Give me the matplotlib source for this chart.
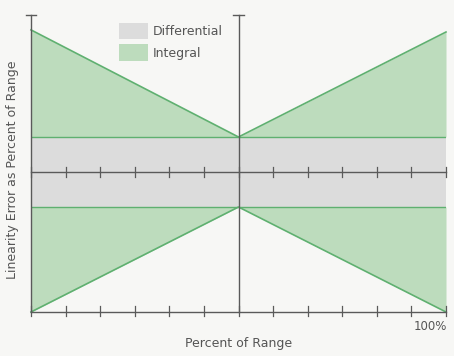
import numpy as np
import matplotlib
matplotlib.use("Agg")
import matplotlib.pyplot as plt
from matplotlib.patches import Patch

# Data (percent of range vs linearity error, arbitrary units)
range_pct = [0, 50, 100]
integral_upper = [4.06, 1.0, 4.0]
integral_lower = [-4.0, -1.0, -4.0]
differential = 1.0
tick_pos = np.linspace(0, 100, 13)

BG = "#f7f7f5"
GREEN_FILL = "#bddcbd"
GREEN_LINE = "#5fb070"
GRAY_FILL = "#dcdcdc"
AXC = "#5a5a5a"
TEXTC = "#555555"

fig = plt.figure(figsize=(4.54, 3.56), dpi=100)
fig.patch.set_facecolor(BG)
ax = fig.add_axes([31 / 454, 36 / 356, 415 / 454, 310 / 356])
ax.set_facecolor(BG)
ax.set_xlim(0, 100)
ax.set_ylim(-148 / 35, 162 / 35)
ax.axis("off")

# differential band
ax.fill_between([0, 100], -differential, differential, color=GRAY_FILL, lw=0, zorder=1)
# integral areas
ax.fill_between(range_pct, differential, integral_upper, color=GREEN_FILL, lw=0, zorder=1)
ax.fill_between(range_pct, integral_lower, -differential, color=GREEN_FILL, lw=0, zorder=1)
ax.plot(range_pct, integral_upper, color=GREEN_LINE, lw=1.2, zorder=3, clip_on=False)
ax.plot(range_pct, integral_lower, color=GREEN_LINE, lw=1.2, zorder=3, clip_on=False)
ax.plot([0, 100], [differential, differential], color=GREEN_LINE, lw=1.0, zorder=3)
ax.plot([0, 100], [-differential, -differential], color=GREEN_LINE, lw=1.0, zorder=3)

# axes drawn by hand
top = 157 / 35
bottom = -4.0
for xv in [0, 50]:
    ax.plot([xv, xv], [bottom, top], color=AXC, lw=1.0, zorder=4, clip_on=False)
    ax.plot([xv - 1.3, xv + 1.3], [top, top], color=AXC, lw=1.0, zorder=4, clip_on=False)
ax.plot([0, 100], [0, 0], color=AXC, lw=1.0, zorder=4, clip_on=False)
ax.plot([0, 100], [bottom, bottom], color=AXC, lw=1.0, zorder=4, clip_on=False)
for xv in tick_pos:
    ax.plot([xv, xv], [-0.15, 0.15], color=AXC, lw=0.9, zorder=4, clip_on=False)
    ax.plot([xv, xv], [bottom - 0.1, bottom + 0.17], color=AXC, lw=0.9, zorder=4, clip_on=False)

# legend
handles = [Patch(facecolor=GRAY_FILL, edgecolor="none", label="Differential"),
           Patch(facecolor=GREEN_FILL, edgecolor="none", label="Integral")]
ax.legend(handles=handles, loc="upper left", bbox_to_anchor=(0.212, 0.958), frameon=False,
          fontsize=9, labelcolor=TEXTC, handlelength=2.3, handleheight=1.65,
          handletextpad=0.4, labelspacing=0.4, borderpad=0, borderaxespad=0)

fig.text(430 / 454, 1 - 327 / 356, "100%", ha="center", va="center", fontsize=8.5, color=TEXTC)
fig.text(239 / 454, 1 - 343 / 356, "Percent of Range", ha="center", va="center", fontsize=9, color=TEXTC)
fig.text(13 / 454, 1 - 170 / 356, "Linearity Error as Percent of Range", ha="center", va="center",
         rotation=90, fontsize=9, color=TEXTC)

fig.savefig("out.png", dpi=100, facecolor=BG)
